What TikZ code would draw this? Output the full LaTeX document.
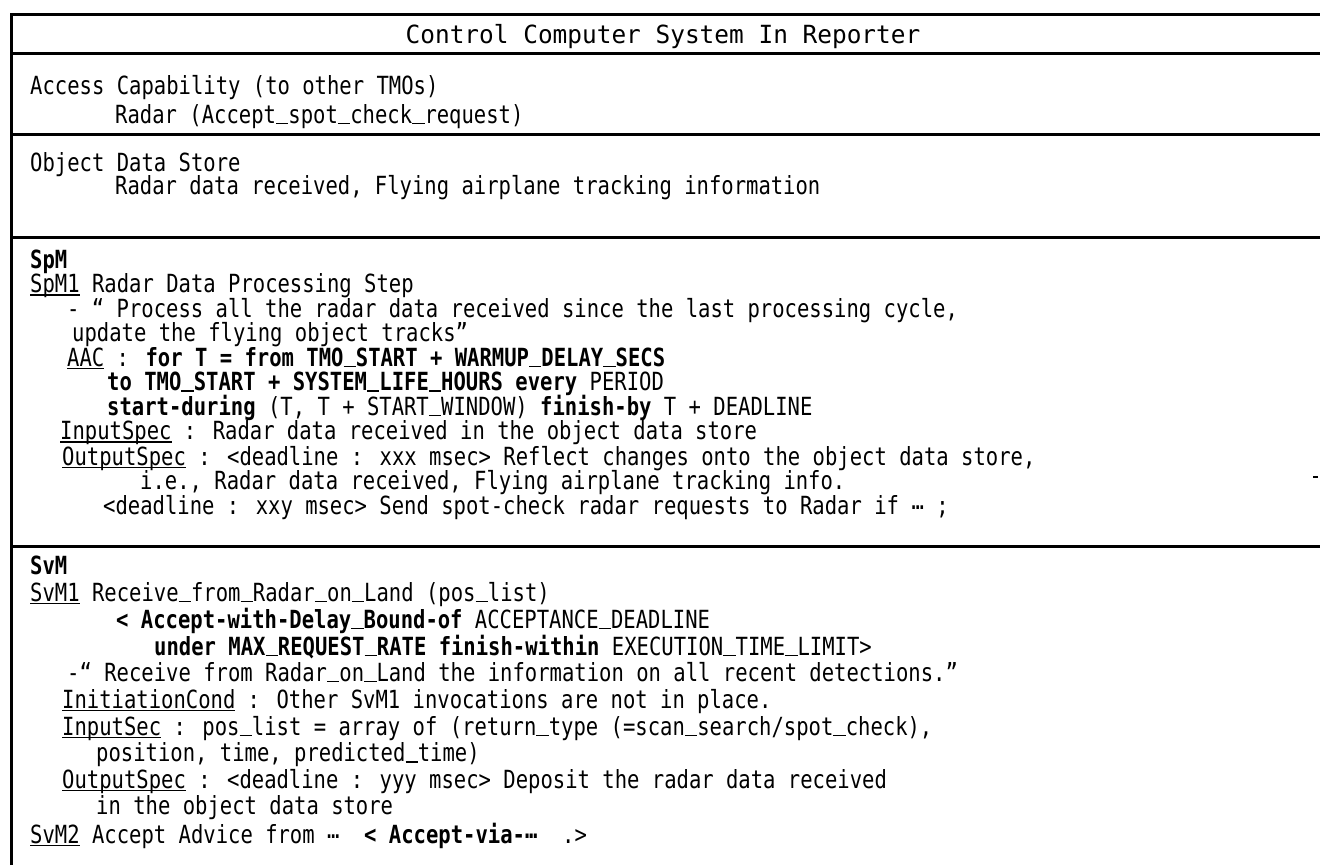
\documentclass[tikz,border=0pt]{standalone}
\usepackage{fontspec}
\setmainfont[FakeStretch=0.822]{DejaVu Sans Mono}
\newfontfamily\titlefont[FakeStretch=0.977]{DejaVu Sans Mono}
% underlined label with a thin rule just under the baseline
\newcommand\ulin[1]{\setbox0\hbox{#1}\rlap{\rule[-3.2pt]{\wd0}{1.3pt}}\box0\relax}
% underscore drawn as a rule one character wide, sitting on the baseline
\newcommand\us{\leavevmode\setbox2\hbox{x}\hbox to\wd2{\rule[-1.2pt]{\wd2}{1.5pt}\hss}}
% ellipsis set at mid height
\newcommand\midell{\raisebox{5pt}{…}}
\begin{document}
\begin{tikzpicture}[x=1pt,y=-1pt,
  txt/.style={anchor=base west,inner sep=0pt,font=\fontsize{25pt}{29pt}\selectfont},
  sep/.style={line width=3pt}]
\useasboundingbox (0,0) rectangle (1320,865);

% frame and section separators
\draw[sep,line join=miter] (11,865) -- (11,14) -- (1320,14);
\foreach \y in {53,134,237,546} \draw[sep] (11,\y) -- (1320,\y);
\draw[line width=1.5pt] (1313,477) -- (1318,477);

% header
\node[txt,anchor=base,font=\titlefont\fontsize{25pt}{29pt}\selectfont] (title) at (663,43) {Control Computer System In Reporter};

% access capability
\node[txt] (acc) at (30,94) {Access Capability (to other TMOs)};
\node[txt] (accr) at (115,123) {Radar (Accept\us spot\us check\us request)};

% object data store
\node[txt] (ods) at (30,171) {Object Data Store};
\node[txt] (odsr) at (115,194) {Radar data received, Flying airplane tracking information};

% spontaneous method
\node[txt] (spm) at (30,268) {\textbf{SpM}};
\node[txt] (spm1) at (30,292.5) {\ulin{SpM1} Radar Data Processing Step};
\node[txt] (spmd) at (67,317) {- “ Process all the radar data received since the last processing cycle,};
\node[txt] (spmd2) at (72,341.5) {update the flying object tracks”};
\node[txt] (aac) at (67,366) {\ulin{AAC} : \textbf{for T = from TMO\us START + WARMUP\us DELAY\us SECS}};
\node[txt] (aac2) at (107,390.5) {\textbf{to TMO\us START + SYSTEM\us LIFE\us HOURS every} PERIOD};
\node[txt] (aac3) at (107,415) {\textbf{start-during} (T, T + START\us WINDOW) \textbf{finish-by} T + DEADLINE};
\node[txt] (spin) at (60,439.5) {\ulin{InputSpec} : Radar data received in the object data store};
\node[txt] (spout) at (62,465) {\ulin{OutputSpec} : <deadline : xxx msec> Reflect changes onto the object data store,};
\node[txt] (spout2) at (140,489.5) {i.e., Radar data received, Flying airplane tracking info.};
\node[txt] (spout3) at (103,514) {<deadline : xxy msec> Send spot-check radar requests to Radar if \midell\ ;};

% service methods
\node[txt] (svm) at (30,574) {\textbf{SvM}};
\node[txt] (svm1) at (30,601) {\ulin{SvM1} Receive\us from\us Radar\us on\us Land (pos\us list)};
\node[txt] (svma) at (116,628) {\textbf{< Accept-with-Delay\us Bound-of} ACCEPTANCE\us DEADLINE};
\node[txt] (svma2) at (154,655) {\textbf{under MAX\us REQUEST\us RATE finish-within} EXECUTION\us TIME\us LIMIT>};
\node[txt] (svmd) at (67,681) {-“ Receive from Radar\us on\us Land the information on all recent detections.”};
\node[txt] (svinit) at (62,708) {\ulin{InitiationCond} : Other SvM1 invocations are not in place.};
\node[txt] (svin) at (62,735) {\ulin{InputSec} : pos\us list = array of (return\us type (=scan\us search/spot\us check),};
\node[txt] (svin2) at (96,761.5) {position, time, predicted\us time)};
\node[txt] (svout) at (62,788) {\ulin{OutputSpec} : <deadline : yyy msec> Deposit the radar data received};
\node[txt] (svout2) at (96,814) {in the object data store};
\node[txt] (svm2) at (30,843) {\ulin{SvM2} Accept Advice from \midell\ \ \textbf{< Accept-via-\midell}\ \ .>};
\end{tikzpicture}
\end{document}
